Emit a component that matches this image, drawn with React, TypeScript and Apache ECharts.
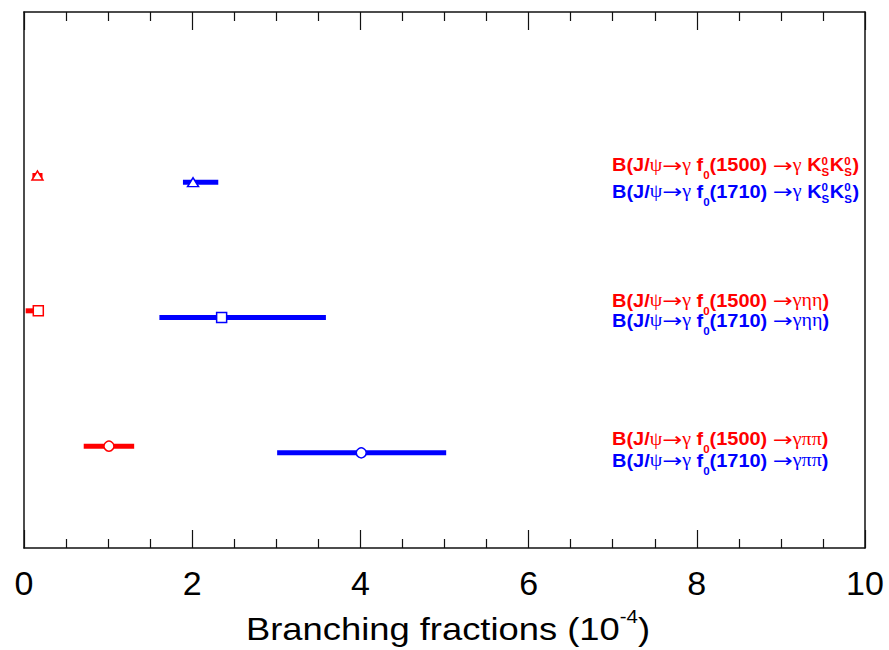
import React, { useEffect, useRef } from "react";
import * as echarts from "echarts";

// ---- data (branching fractions, units of 1e-4) ----
const processes = ["K0SK0S", "etaeta", "pipi"];
const rowY1500 = [2.78, 1.77, 0.76];
const rowY1710 = [2.73, 1.72, 0.71];
const central1500 = [0.16, 0.17, 1.01];
const low1500 = [0.1, 0.02, 0.71];
const high1500 = [0.22, 0.22, 1.31];
const central1710 = [2.01, 2.35, 4.01];
const low1710 = [1.89, 1.61, 3.01];
const high1710 = [2.31, 3.59, 5.02];
const markerShapes = ["triangle", "rect", "circle"];
const xTicks = [0, 2, 4, 6, 8, 10];

const RED = "#ff0000";
const BLUE = "#0000ff";

type Part = [string, string, string?];
const finals: Part[][] = [
  [["m", " "], ["a", "→"], ["g", "γ"], ["m", " K"], ["ss", "0", "S"], ["m", "K"], ["ss", "0", "S"], ["m", ")"]],
  [["m", " "], ["a", "→"], ["g", "γηη"], ["m", ")"]],
  [["m", " "], ["a", "→"], ["g", "γππ"], ["m", ")"]],
];
const labelY1500 = [164.5, 300, 438.5];
const labelY1710 = [191, 320, 460];

function mkParts(mass: string, fin: Part[]): Part[] {
  return [["m", "B(J/"], ["g", "ψ"], ["a", "→"], ["g", "γ"], ["m", " f"], ["sub", "0"], ["m", "(" + mass + ")"], ...fin];
}

const SANS = '"Liberation Sans", Arial, Helvetica, sans-serif';
const SERIF = '"Liberation Serif", "DejaVu Serif", serif';
const ARROWF = '"DejaVu Sans", sans-serif';

export default function App() {
  const ref = useRef<HTMLDivElement>(null);
  useEffect(() => {
    if (!ref.current) return;
    const chart = echarts.init(ref.current, null, { renderer: "svg" });
    const cv = document.createElement("canvas");
    const ctx = cv.getContext("2d")!;
    const measure = (t: string, font: string) => {
      ctx.font = font;
      return ctx.measureText(t).width;
    };

    const FS = 19;
    const SFS = 11;
    const ARROW_W = 20;
    const STRETCH = 1.05;
    const fontMain = `bold ${FS}px ${SANS}`;
    const fontGreek = `${FS}px ${SERIF}`;
    const fontArrow = `${FS}px ${ARROWF}`;
    const fontSmall = `bold ${SFS}px ${SANS}`;

    const layoutLabel = (parts: Part[], x0: number, yc: number, color: string) => {
      const els: any[] = [];
      let x = x0;
      const add = (t: string, font: string, y: number, scaleX = STRETCH) => {
        els.push({
          type: "text",
          x,
          y,
          scaleX,
          style: {
            text: t,
            fill: color,
            font,
            verticalAlign: "middle",
            align: "left",
          },
          z: 10,
        });
        return measure(t, font) * scaleX;
      };
      for (const p of parts) {
        const kind = p[0];
        if (kind === "m") x += add(p[1], fontMain, yc);
        else if (kind === "g") x += add(p[1], fontGreek, yc);
        else if (kind === "a") {
          const w = measure(p[1], fontArrow);
          x += add(p[1], fontArrow, yc + 0.5, ARROW_W / w);
        } else if (kind === "sub") x += add(p[1], fontSmall, yc + 11);
        else if (kind === "ss") {
          const w1 = add(p[1], fontSmall, yc - 3.5);
          const w2 = add(p[2] as string, fontSmall, yc + 8);
          x += Math.max(w1, w2) + 0.5;
        }
      }
      return els;
    };

    const graphics: any[] = [];
    processes.forEach((_, i) => {
      graphics.push(...layoutLabel(mkParts("1500", finals[i]), 612, labelY1500[i], RED));
      graphics.push(...layoutLabel(mkParts("1710", finals[i]), 612, labelY1710[i], BLUE));
    });

    // axis title
    const TFS = 32;
    const tFont = `${TFS}px ${SANS}`;
    const sFont = `18px ${SANS}`;
    const t1 = "Branching fractions (10";
    const t2 = "-4";
    const t3 = ")";
    const w1 = measure(t1, tFont);
    const w2 = measure(t2, sFont);
    const w3 = measure(t3, tFont);
    const TW = 404;
    const ts = TW / (w1 + w2 + w3);
    let tx = 448 - TW / 2;
    const ty = 629;
    graphics.push({ type: "text", x: tx, y: ty, scaleX: ts, style: { text: t1, fill: "#000", font: tFont, verticalAlign: "middle" } });
    tx += w1 * ts;
    graphics.push({ type: "text", x: tx, y: ty - 12, scaleX: ts, style: { text: t2, fill: "#000", font: sFont, verticalAlign: "middle" } });
    tx += w2 * ts;
    graphics.push({ type: "text", x: tx, y: ty, scaleX: ts, style: { text: t3, fill: "#000", font: tFont, verticalAlign: "middle" } });

    const errData = (lo: number[], hi: number[], ys: number[]) => lo.map((l, i) => [l, hi[i], ys[i]]);
    const errSeries = (name: string, data: number[][], color: string) => ({
      type: "custom",
      name,
      data,
      z: 2,
      renderItem: (params: any, api: any) => {
        const a = api.coord([api.value(0), api.value(2)]);
        const b = api.coord([api.value(1), api.value(2)]);
        return {
          type: "line",
          shape: { x1: a[0], y1: a[1], x2: b[0], y2: b[1] },
          style: { stroke: color, lineWidth: 5 },
        };
      },
      encode: { x: [0, 1], y: 2 },
    });

    const markerSeries = (name: string, cx: number[], ys: number[], color: string) => ({
      type: "scatter",
      name,
      z: 5,
      data: cx.map((v, i) => ({
        value: [v, ys[i]],
        symbol: markerShapes[i],
        symbolSize: markerShapes[i] === "triangle" ? [11, 9] : 10,
      })),
      itemStyle: { color: "#ffffff", borderColor: color, borderWidth: 1.5, opacity: 1 },
    });

    const axisCommon = {
      type: "value",
      min: 0,
      max: 10,
      interval: 2,
      axisLine: { show: true, onZero: false, lineStyle: { color: "#111", width: 1.5 } },
      axisTick: { show: true, inside: true, length: 18, lineStyle: { color: "#111", width: 1.2 } },
      minorTick: { show: true, splitNumber: 4, length: 9, lineStyle: { color: "#111", width: 1.2 } },
      splitLine: { show: false },
      minorSplitLine: { show: false },
    };

    chart.setOption({
      animation: false,
      backgroundColor: "#ffffff",
      grid: { left: 24, right: 24, top: 12, bottom: 102, containLabel: false },
      xAxis: [
        {
          ...axisCommon,
          position: "bottom",
          data: xTicks,
          axisLabel: {
            show: true,
            color: "#000",
            fontSize: 34,
            fontFamily: SANS,
            margin: 18,
            formatter: (v: number) => String(v),
          },
        },
        { ...axisCommon, position: "top", axisLabel: { show: false } },
      ],
      yAxis: [
        {
          type: "value",
          min: 0,
          max: 4,
          position: "left",
          axisLine: { show: true, onZero: false, lineStyle: { color: "#111", width: 1.5 } },
          axisTick: { show: false },
          axisLabel: { show: false },
          splitLine: { show: false },
        },
        {
          type: "value",
          min: 0,
          max: 4,
          position: "right",
          axisLine: { show: true, onZero: false, lineStyle: { color: "#111", width: 1.5 } },
          axisTick: { show: false },
          axisLabel: { show: false },
          splitLine: { show: false },
        },
      ],
      series: [
        errSeries("f0(1500) err", errData(low1500, high1500, rowY1500), RED),
        errSeries("f0(1710) err", errData(low1710, high1710, rowY1710), BLUE),
        markerSeries("f0(1500)", central1500, rowY1500, RED),
        markerSeries("f0(1710)", central1710, rowY1710, BLUE),
      ],
      graphic: graphics,
    });
    return () => chart.dispose();
  }, []);
  return <div ref={ref} style={{ position: "fixed", left: 0, top: 0, width: 889, height: 650 }} />;
}
